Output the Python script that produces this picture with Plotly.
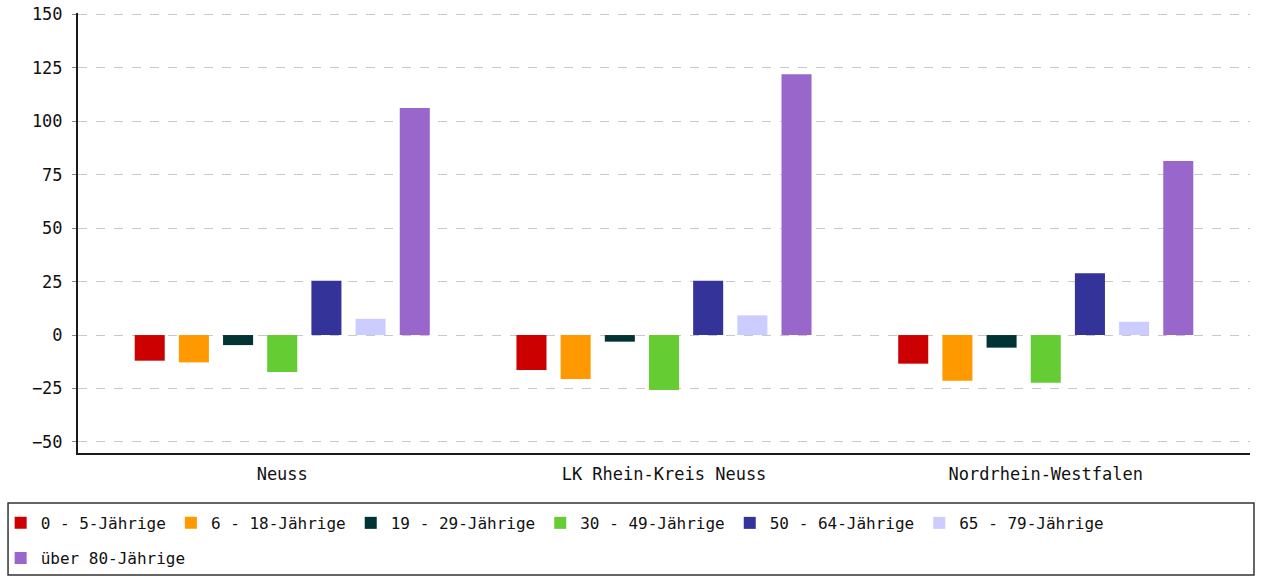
import plotly.graph_objects as go

categories = ["Neuss", "LK Rhein-Kreis Neuss", "Nordrhein-Westfalen"]
series_names = ["0 - 5-Jährige", "6 - 18-Jährige", "19 - 29-Jährige", "30 - 49-Jährige",
                "50 - 64-Jährige", "65 - 79-Jährige", "über 80-Jährige"]
values_0_5 = [-12.0, -16.4, -13.4]
values_6_18 = [-12.8, -20.6, -21.4]
values_19_29 = [-4.7, -3.1, -5.9]
values_30_49 = [-17.3, -25.7, -22.3]
values_50_64 = [25.4, 25.4, 28.9]
values_65_79 = [7.6, 9.2, 6.2]
values_80 = [106.2, 122.0, 81.4]
series_values = [values_0_5, values_6_18, values_19_29, values_30_49,
                 values_50_64, values_65_79, values_80]
colors = ["#CC0000", "#FF9900", "#003333", "#66CC33", "#333399", "#CCCCFF", "#9966CC"]
legend_rows = ["legend", "legend", "legend", "legend", "legend", "legend", "legend2"]
y_ticks = [-50, -25, 0, 25, 50, 75, 100, 125, 150]

FONT = "DejaVu Sans Mono"
TXT = "#111111"

fig = go.Figure()
for name, vals, col, lg in zip(series_names, series_values, colors, legend_rows):
    fig.add_trace(go.Bar(x=categories, y=vals, name=name, legend=lg,
                         marker=dict(color=col, line=dict(width=0))))

legend_common = dict(orientation="h", xanchor="left", yanchor="middle",
                     font=dict(family=FONT, size=16, color=TXT),
                     bgcolor="rgba(0,0,0,0)", borderwidth=0, itemwidth=30)

fig.update_layout(
    template="none",
    width=1262, height=579,
    margin=dict(l=78, r=12, t=13, b=126, autoexpand=False),
    paper_bgcolor="white", plot_bgcolor="white",
    barmode="group", bargap=0.19, bargroupgap=0.32,
    font=dict(family=FONT, size=16, color=TXT),
    showlegend=True,
    legend=dict(x=-0.066, y=-0.159, **legend_common),
    legend2=dict(x=-0.066, y=-0.2386, **legend_common),
    xaxis=dict(range=[-0.535, 2.535], showgrid=False, showline=True, linecolor="#1a1a1a",
               linewidth=2, ticks="", tickfont=dict(family=FONT, size=17, color=TXT),
               ticklabelstandoff=5, ticklabeloverflow="allow",
               zeroline=False, fixedrange=True, automargin=False),
    yaxis=dict(range=[-55.2, 150.7], tickvals=y_ticks, showgrid=True, gridcolor="#c8c8c8",
               griddash="dash", gridwidth=1, showline=True, linecolor="#1a1a1a", linewidth=2,
               ticks="outside", ticklen=4, tickcolor="#888888",
               tickfont=dict(family=FONT, size=17, color=TXT),
               ticklabelstandoff=6, ticklabeloverflow="allow",
               zeroline=False, fixedrange=True, automargin=False),
    shapes=[dict(type="rect", xref="paper", yref="paper",
                 x0=-0.0597, x1=1.0034, y0=-0.2773, y1=-0.1136,
                 line=dict(color="#333333", width=1.5), fillcolor="rgba(0,0,0,0)")],
)
fig.write_html("out.html", config={"displayModeBar": False},
               post_script="document.body.style.margin='0';document.body.style.overflow='hidden';")
